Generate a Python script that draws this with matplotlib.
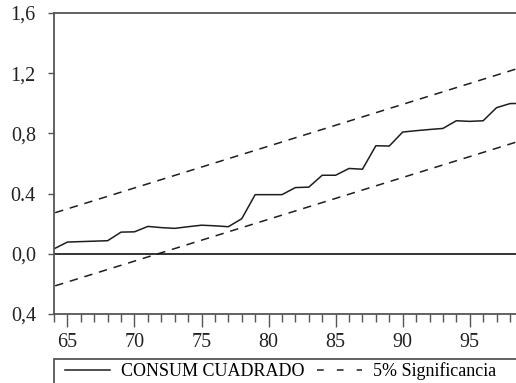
import numpy as np
import matplotlib
matplotlib.use("Agg")
import matplotlib.pyplot as plt
from matplotlib.lines import Line2D
from matplotlib.patches import Rectangle
from matplotlib.ticker import FixedLocator, FixedFormatter, MultipleLocator

plt.rcParams['font.family'] = ['Liberation Serif', 'DejaVu Serif']

# CUSUM of squares, annual obs
years = [64, 65, 66, 67, 68, 69, 70, 71, 72, 73, 74, 75, 76, 77, 78, 79, 80, 81,
         82, 83, 84, 85, 86, 87, 88, 89, 90, 91, 92, 93, 94, 95, 96, 97, 98, 99]
cusumsq = [0.033, 0.078, 0.081, 0.084, 0.087, 0.144, 0.146, 0.182, 0.174, 0.169,
           0.180, 0.190, 0.186, 0.180, 0.233, 0.393, 0.393, 0.393, 0.440, 0.443,
           0.522, 0.522, 0.567, 0.562, 0.718, 0.716, 0.809, 0.818, 0.826, 0.833,
           0.884, 0.880, 0.884, 0.971, 0.998, 1.000]

# 5% bands (straight lines, endpoints)
band_years = [63, 99]
band_upper = [0.243, 1.243]
band_lower = [-0.243, 0.757]

ytick_vals = [1.6, 1.2, 0.8, 0.4, 0.0, -0.4]
ytick_labels = ['1,6', '1,2', '0,8', '0.4', '0,0', '0,4']
xtick_vals = [65, 70, 75, 80, 85, 90, 95]

W, H = 516, 383
fig = plt.figure(figsize=(W / 100, H / 100), dpi=100)
ax = fig.add_axes([54 / W, 1 - 314 / H, 1 - 54 / W, (314 - 13) / H])

dark = '#1e1e1e'
grey = '#555555'

ax.plot(years, cusumsq, color=dark, lw=1.1)
ax.plot(band_years, band_upper, color=dark, lw=1.1, dashes=(5.5, 4.5))
ax.plot(band_years, band_lower, color=dark, lw=1.1, dashes=(5.5, 4.5))
ax.axhline(0, color='#111111', lw=1.2)

ax.set_xlim(64, 98.45)
ax.set_ylim(-0.4, 1.6)

ax.xaxis.set_major_locator(FixedLocator(xtick_vals))
ax.xaxis.set_minor_locator(MultipleLocator(1))
ax.yaxis.set_major_locator(FixedLocator(ytick_vals))
ax.yaxis.set_major_formatter(FixedFormatter(ytick_labels))

ax.tick_params(axis='x', which='major', length=9.5, width=1, color=grey,
               labelsize=14.5, pad=4, labelcolor='#222222')
ax.tick_params(axis='x', which='minor', length=5.8, width=1, color=grey)
ax.tick_params(axis='y', which='major', length=4, width=1, color=grey,
               labelsize=14.5, pad=9, labelcolor='#222222')

for side in ['left', 'top', 'bottom']:
    ax.spines[side].set_color(grey)
    ax.spines[side].set_linewidth(1.3)
ax.spines['right'].set_visible(False)

# legend in a box under the axes
handles = [Line2D([], [], color=dark, lw=1.1),
           Line2D([], [], color=dark, lw=1.1, dashes=(4.4, 8.6))]
labels = ['CONSUM CUADRADO', '5% Significancia']
fig.legend(handles, labels, ncol=2, loc='upper left',
           bbox_to_anchor=(65 / W, 1 - 362 / H), frameon=False,
           fontsize=13, handlelength=2.5, handletextpad=0.6,
           columnspacing=0.7, borderaxespad=0, borderpad=0)
fig.patches.append(Rectangle((54 / W, -0.1), 1.0, 0.1 + 1 - 359 / H,
                             transform=fig.transFigure, fill=False,
                             edgecolor=grey, lw=1.3, clip_on=False))

fig.savefig('out.png', dpi=100)
